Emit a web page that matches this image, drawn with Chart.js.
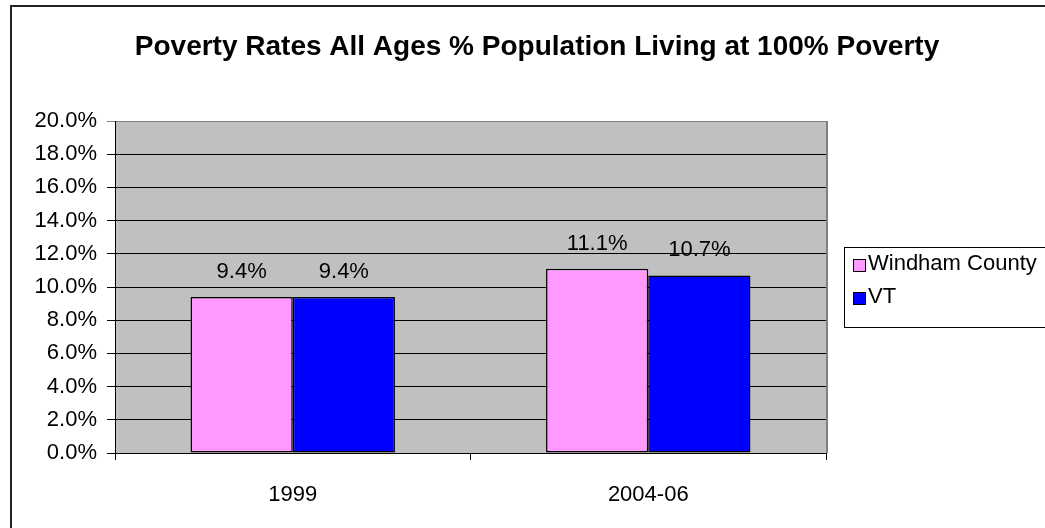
<!DOCTYPE html>
<html>
<head>
<meta charset="utf-8">
<script src="https://cdn.jsdelivr.net/npm/chart.js@4/dist/chart.umd.min.js"></script>
<style>
html,body{margin:0;padding:0;background:#fff;}
canvas{display:block;}
</style>
</head>
<body>
<canvas id="c" width="1045" height="528"></canvas>
<script>
const categories = ['1999', '2004-06'];
const windhamValues = [9.4, 11.1];
const vtValues = [9.4, 10.7];
const seriesNames = ['Windham County', 'VT'];
const yTickMax = 20;
const yTickStep = 2;
const titleText = 'Poverty Rates All Ages % Population Living at 100% Poverty';

const FONT = '"Liberation Sans", Arial, sans-serif';
const colors = ['#FF99FF', '#0000FF'];

const decorPlugin = {
  id: 'decor',
  beforeDraw(chart) {
    const ctx = chart.ctx;
    const a = chart.chartArea;
    ctx.save();
    ctx.fillStyle = '#fff';
    ctx.fillRect(0, 0, chart.width, chart.height);
    ctx.fillStyle = '#C0C0C0';
    ctx.fillRect(a.left, a.top, a.right - a.left, a.bottom - a.top);
    ctx.restore();
  },
  afterDraw(chart) {
    const ctx = chart.ctx;
    const a = chart.chartArea;
    ctx.save();
    // plot right border gray
    ctx.strokeStyle = '#808080';
    ctx.lineWidth = 2;
    ctx.beginPath();
    ctx.moveTo(a.right + 1, a.top);
    ctx.lineTo(a.right + 1, a.bottom);
    ctx.stroke();
    // outer chart border (top and left)
    ctx.strokeStyle = '#222';
    ctx.lineWidth = 2;
    ctx.beginPath();
    ctx.moveTo(11, chart.height + 2);
    ctx.lineTo(11, 6);
    ctx.lineTo(chart.width + 2, 6);
    ctx.stroke();
    // title
    ctx.fillStyle = '#000';
    ctx.font = 'bold 28px ' + FONT;
    ctx.textAlign = 'center';
    ctx.textBaseline = 'alphabetic';
    ctx.fillText(titleText, 537, 55);
    // data labels
    ctx.font = '22px ' + FONT;
    ctx.textBaseline = 'middle';
    chart.data.datasets.forEach((ds, i) => {
      const meta = chart.getDatasetMeta(i);
      meta.data.forEach((bar, j) => {
        ctx.fillText(ds.data[j].toFixed(1) + '%', bar.x, bar.y - 25);
      });
    });
    // legend
    const lx = 844, ly = 247, lw = 220, lh = 80;
    ctx.fillStyle = '#fff';
    ctx.fillRect(lx, ly, lw, lh);
    ctx.strokeStyle = '#000';
    ctx.lineWidth = 1;
    ctx.strokeRect(lx + 0.5, ly + 0.5, lw, lh);
    ctx.textAlign = 'left';
    const rows = [264, 297];
    chart.data.datasets.forEach((ds, i) => {
      const y = rows[i];
      ctx.fillStyle = ds.backgroundColor;
      ctx.fillRect(853, y - 5, 12, 12);
      ctx.strokeStyle = '#000';
      ctx.strokeRect(853.5, y - 4.5, 12, 12);
      ctx.fillStyle = '#000';
      ctx.fillText(ds.label, 868, y);
    });
    ctx.restore();
  }
};

new Chart(document.getElementById('c'), {
  type: 'bar',
  data: {
    labels: categories,
    datasets: [
      { label: seriesNames[0], data: windhamValues, backgroundColor: colors[0], borderColor: '#000', borderWidth: 1.5, borderSkipped: false },
      { label: seriesNames[1], data: vtValues, backgroundColor: colors[1], borderColor: '#000', borderWidth: 1.5, borderSkipped: false }
    ]
  },
  options: {
    responsive: false,
    animation: false,
    devicePixelRatio: 1,
    layout: { padding: { top: 121, right: 219, left: 0, bottom: 0 } },
    datasets: { bar: { categoryPercentage: 0.575, barPercentage: 1.0 } },
    plugins: { legend: { display: false }, title: { display: false }, tooltip: { enabled: false } },
    scales: {
      x: {
        grid: { offset: true, drawOnChartArea: false, color: '#000', tickLength: 7 },
        border: { color: '#000', width: 1 },
        ticks: { color: '#000', font: { family: FONT, size: 22 }, padding: 22 },
        afterFit(s) { s.height = 75; }
      },
      y: {
        min: 0, max: yTickMax,
        grid: { color: (c) => (c.tick && c.tick.value === yTickMax ? '#808080' : '#000'), tickLength: 8, lineWidth: 1 },
        border: { color: '#000', width: 1 },
        ticks: { stepSize: yTickStep, color: '#000', font: { family: FONT, size: 22 }, padding: 10,
          callback: (v) => Number(v).toFixed(1) + '%' },
        afterFit(s) { s.width = 115; }
      }
    }
  },
  plugins: [decorPlugin]
});
</script>
</body>
</html>
